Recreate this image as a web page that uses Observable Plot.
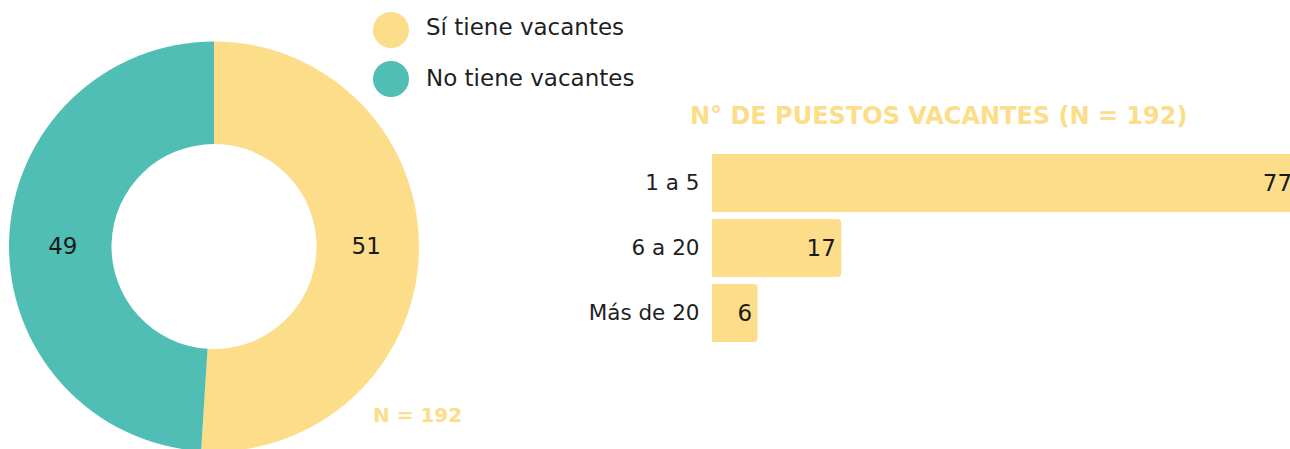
<!DOCTYPE html>
<html>
<head>
<meta charset="utf-8">
<script src="https://cdn.jsdelivr.net/npm/d3@7"></script>
<script src="https://cdn.jsdelivr.net/npm/@observablehq/plot@0.6"></script>
<style>
  html, body { margin: 0; padding: 0; background: #fff; }
  #wrap { position: relative; width: 1290px; height: 449px; overflow: hidden; font-family: "DejaVu Sans", sans-serif; color: #1f1f1f; }
  .abs { position: absolute; white-space: nowrap; }
  .legend-item { position: absolute; left: 373px; height: 36px; display: flex; align-items: center; }
  .legend-dot { width: 36px; height: 36px; border-radius: 50%; margin-right: 17px; flex: none; }
  .legend-text { font-size: 23px; line-height: 36px; position: relative; }
  .title { left: 690px; top: 102px; font-size: 24px; font-weight: 700; color: #FBDD8A; }
  .ncap { left: 373px; top: 403px; font-size: 20px; font-weight: 700; color: #FBDD8A; }
</style>
</head>
<body>
<div id="wrap"></div>
<script>
// ---- Data ----
const donutCats = ["Sí tiene vacantes", "No tiene vacantes"];
const donutVals = [51, 49];
const barCats = ["1 a 5", "6 a 20", "Más de 20"];
const barVals = [77, 17, 6];
const titleText = "N° DE PUESTOS VACANTES (N = 192)";
const nText = "N = 192";
const yellow = "#FBDD8A";
const teal = "#50BEB4";
const palette = [yellow, teal];
const font = "'DejaVu Sans', sans-serif";

const wrap = document.getElementById("wrap");

// ---- Donut ----
const donutData = donutCats.map((c, i) => ({cat: c, value: donutVals[i]}));
const arcs = d3.pie().sort(null).value(d => d.value)(donutData);
const innerRatio = 0.5;
const labelRadius = 0.74;

const donut = Plot.plot({
  width: 430,
  height: 449,
  margin: 0,
  x: {domain: [-1, 1], range: [9, 419], axis: null},
  y: {domain: [-1, 1], range: [41.5, 451.5], axis: null},
  color: {domain: donutCats, range: palette},
  marks: [
    (index, scales) => {
      const cx = scales.x(0), cy = scales.y(0);
      const r = scales.x(1) - scales.x(0);
      const arcGen = d3.arc().innerRadius(r * innerRatio).outerRadius(r);
      const g = d3.create("svg:g").attr("transform", `translate(${cx},${cy})`);
      g.selectAll("path").data(arcs).join("path")
        .attr("d", arcGen)
        .attr("fill", d => scales.color(d.data.cat));
      return g.node();
    },
    Plot.text(arcs, {
      x: d => labelRadius * Math.sign(Math.sin((d.startAngle + d.endAngle) / 2)),
      y: () => 0,
      text: d => String(d.data.value),
      fontSize: 23,
      fill: "#1a1a1a"
    })
  ],
  style: {fontFamily: font, background: "transparent", overflow: "hidden"}
});
donut.style.position = "absolute";
donut.style.left = "0px";
donut.style.top = "0px";
wrap.appendChild(donut);

// ---- Legend ----
donutCats.forEach((c, i) => {
  const item = document.createElement("div");
  item.className = "legend-item";
  item.style.top = (12 + i * 49) + "px";
  item.innerHTML = `<div class="legend-dot" style="background:${palette[i]}"></div><div class="legend-text" style="top:${i === 0 ? -3 : -1}px">${c}</div>`;
  wrap.appendChild(item);
});

// ---- N caption ----
const ncap = document.createElement("div");
ncap.className = "abs ncap";
ncap.textContent = nText;
wrap.appendChild(ncap);

// ---- Title ----
const title = document.createElement("div");
title.className = "abs title";
title.textContent = titleText;
wrap.appendChild(title);

// ---- Bars ----
const barData = barCats.map((c, i) => ({cat: c, value: barVals[i]}));
const bars = Plot.plot({
  width: 730,
  height: 449,
  marginLeft: 152,
  marginRight: 0,
  marginTop: 154,
  marginBottom: 107,
  x: {domain: [0, 76], axis: null},
  y: {domain: barCats, paddingInner: 0.108, paddingOuter: 0, label: null, tickSize: 0, tickPadding: 13},
  marks: [
    Plot.barX(barData, {x: "value", y: "cat", fill: yellow, rx: 4, insetLeft: -6, clip: true}),
    Plot.text(barData, {x: "value", y: "cat", text: d => String(d.value), textAnchor: "end", dx: -6, fontSize: 23, fill: "#1a1a1a"})
  ],
  style: {fontFamily: font, fontSize: "21.5px", color: "#1f1f1f", background: "transparent"}
});
bars.style.position = "absolute";
bars.style.left = "560px";
bars.style.top = "0px";
wrap.appendChild(bars);
</script>
</body>
</html>
